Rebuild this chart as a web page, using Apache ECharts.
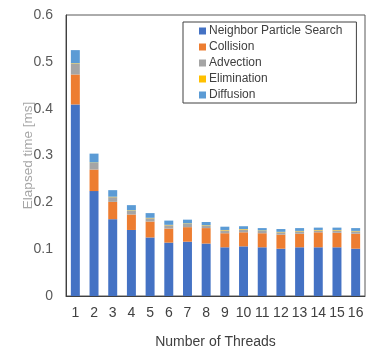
<!DOCTYPE html>
<html>
<head>
<meta charset="utf-8">
<script src="https://cdn.jsdelivr.net/npm/echarts@6/dist/echarts.min.js"></script>
<style>html,body{margin:0;padding:0;background:#fff;}#c{width:368px;height:349px;}</style>
</head>
<body>
<div id="c"></div>
<script>
var threads = ['1','2','3','4','5','6','7','8','9','10','11','12','13','14','15','16'];
var neighborSearch = [0.409,0.224,0.164,0.141,0.125,0.114,0.116,0.112,0.104,0.106,0.104,0.101,0.104,0.104,0.104,0.101];
var collision      = [0.064,0.046,0.037,0.033,0.034,0.030,0.031,0.033,0.030,0.030,0.030,0.030,0.029,0.032,0.031,0.032];
var advection      = [0.023,0.014,0.010,0.008,0.007,0.007,0.007,0.005,0.006,0.006,0.005,0.005,0.005,0.004,0.005,0.005];
var elimination    = [0.001,0.001,0.001,0.001,0.001,0.001,0.001,0.001,0.001,0.001,0.001,0.001,0.001,0.001,0.001,0.001];
var diffusion      = [0.028,0.019,0.014,0.011,0.010,0.009,0.008,0.007,0.007,0.006,0.005,0.006,0.006,0.005,0.005,0.006];
var yTicks = [0, 0.1, 0.2, 0.3, 0.4, 0.5, 0.6];

var names = ['Neighbor Particle Search','Collision','Advection','Elimination','Diffusion'];
var colors = ['#4472C4','#ED7D31','#A5A5A5','#FFC000','#5B9BD5'];
var datas = [neighborSearch, collision, advection, elimination, diffusion];

var chart = echarts.init(document.getElementById('c'));
chart.setOption({
  animation: false,
  textStyle: {fontFamily: 'Liberation Sans, Arial, sans-serif'},
  grid: {left: 66, top: 15, right: 3, bottom: 53, containLabel: false, outerBoundsMode: 'none',
         show: true, borderColor: '#595959', borderWidth: 1},
  legend: {
    orient: 'vertical',
    left: 183, top: 22,
    width: 174,
    backgroundColor: '#fff',
    borderColor: '#404040', borderWidth: 1,
    padding: [3, 14, 2, 16],
    itemWidth: 7, itemHeight: 7, itemGap: 4,
    icon: 'rect',
    textStyle: {fontSize: 12, color: '#404040', lineHeight: 12, padding: [0,0,0,-2]},
    data: names
  },
  xAxis: {
    type: 'category',
    data: threads,
    name: 'Number of Threads',
    nameLocation: 'middle',
    nameGap: 39,
    nameMoveOverlap: false,
    nameTextStyle: {fontSize: 14, color: '#404040'},
    axisLine: {lineStyle: {color: '#404040'}},
    axisTick: {show: false},
    axisLabel: {interval: 0, fontSize: 14, color: '#404040', margin: 10}
  },
  yAxis: {
    type: 'value',
    min: 0, max: 0.6, interval: 0.1,
    name: 'Elapsed time [ms]',
    nameLocation: 'middle',
    nameGap: 31,
    nameMoveOverlap: false,
    nameTextStyle: {fontSize: 13.5, color: '#A6A6A6'},
    axisLine: {show: true, lineStyle: {color: '#404040'}},
    axisTick: {show: false},
    splitLine: {show: false},
    axisLabel: {fontSize: 14, color: '#595959', margin: 13,
      formatter: function(v){ var t = yTicks.filter(function(x){return Math.abs(x-v)<1e-9;}); return t.length ? String(t[0]) : ''; }}
  },
  series: datas.map(function(d, i){
    return {
      name: names[i], type: 'bar', stack: 'total', data: d,
      barWidth: '48%',
      itemStyle: {color: colors[i]}
    };
  })
});
</script>
</body>
</html>
